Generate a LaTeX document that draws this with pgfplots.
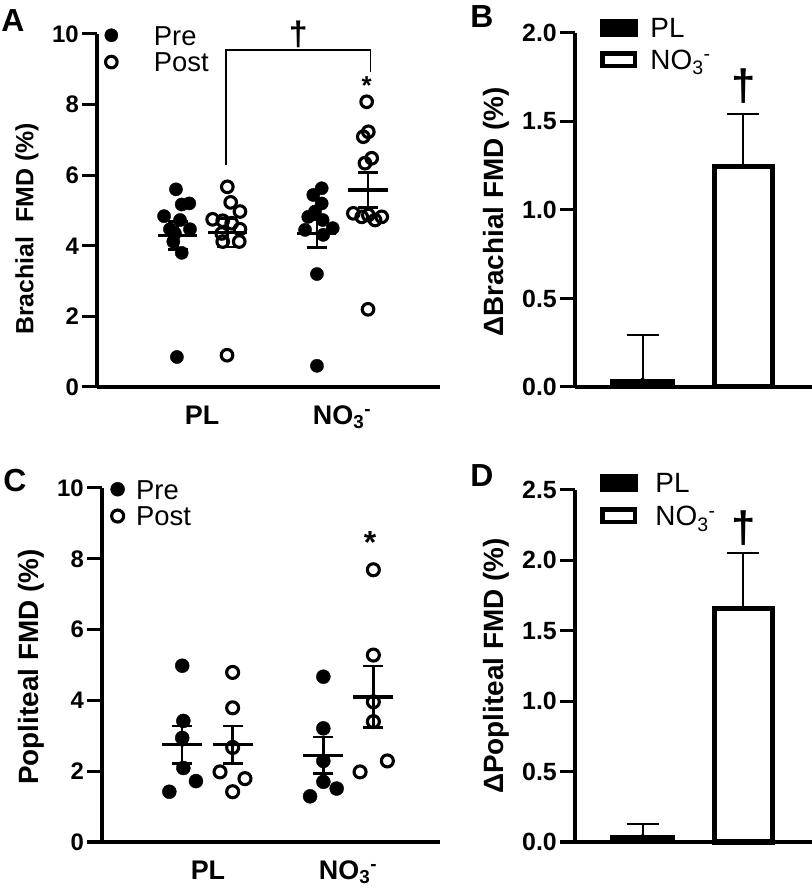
\documentclass[border=0pt]{standalone}
\usepackage{fontspec}
\setmainfont{Liberation Sans}
\usepackage{pgfplots}
\pgfplotsset{compat=1.18}
\newcommand{\fs}[1]{\fontsize{#1}{#1}\selectfont}
\pgfplotsset{
  myaxis/.style={
    scale only axis,
    axis lines=left,
    axis line style={-, line width=3.3bp},
    clip=false,
    tick align=outside,
    major tick length=15bp,
    ytick style={line width=3bp, black},
    xtick style={draw=none},
    /pgf/number format/assume math mode=true,
    yticklabel style={font=\bfseries\fs{24}, inner sep=3bp},
    xticklabel style={font=\bfseries\fs{27}},
    legend cell align=left,
  },
  pre/.style={only marks, mark=*, mark size=#1, mark options={fill=black, draw=black, line width=0.4bp}},
  post/.style={only marks, mark=o, mark size=#1, mark options={draw=black, line width=3.1bp}},
  meanline/.style={no marks, black, line width=3.3bp},
  sem/.style={black, only marks, mark=none, error bars/.cd, y dir=both, y explicit,
    error bar style={line width=2.5bp, black},
    error mark options={rotate=90, mark size=10bp, line width=2.5bp, black}},
  bsem/.style={black, only marks, mark=none, error bars/.cd, y dir=plus, y explicit,
    error bar style={line width=2bp, black},
    error mark options={rotate=90, mark size=16bp, line width=2bp, black}},
}
\begin{document}
\begin{tikzpicture}
\path[use as bounding box] (0,0) rectangle (812bp,894bp);
% ---------------- Panel A ----------------
\begin{axis}[myaxis, at={(97bp,507bp)}, anchor=south west,
  width=343bp, height=353bp,
  xmin=0.25, xmax=2.7, ymin=0, ymax=10, ytick={0,2,...,10},
  xtick={1,2}, xticklabels={PL, NO\textsubscript{3}\textsuperscript{-}},
  ylabel={Brachial\ \ FMD (\%)},
  every axis y label/.style={at={(axis description cs:-0.204,0.448)}, rotate=90, anchor=center, font=\bfseries\fs{25}},
  legend style={draw=none, fill=none, at={(0.022,1.025)}, anchor=north west, inner sep=0pt,
    font=\fs{27.5}, row sep=7bp, nodes={inner sep=0pt, text height=19.8bp, text depth=0bp},
    /tikz/every odd column/.append style={column sep=36bp}},
]
\addplot[pre=6.6bp] coordinates {
 (0.814,5.60) (0.909,5.20) (0.855,5.17) (0.729,4.84) (0.843,4.73) (0.914,4.47)
 (0.771,4.47) (0.807,4.35) (0.795,4.12) (0.855,3.80) (0.821,0.85)
 (1.855,5.63) (1.795,5.44) (1.855,5.20) (1.807,4.97) (1.759,4.82) (1.862,4.73)
 (1.934,4.50) (1.736,4.45) (1.866,4.31) (1.821,3.20) (1.821,0.60)};
\addplot[post=5.8bp] coordinates {
 (1.181,5.67) (1.205,5.23) (1.271,4.97) (1.076,4.75) (1.148,4.71) (1.212,4.64)
 (1.271,4.47) (1.141,4.35) (1.148,4.12) (1.266,4.12) (1.179,0.90)
 (2.176,8.08) (2.188,7.23) (2.152,7.09) (2.212,6.48) (2.164,6.34) (2.081,4.92)
 (2.141,4.82) (2.188,4.87) (2.236,4.73) (2.284,4.82) (2.186,2.20)};
\legend{Pre, Post}
\addplot[meanline] coordinates {(0.686,4.29) (0.964,4.29)};
\addplot[meanline] coordinates {(1.043,4.37) (1.321,4.37)};
\addplot[meanline] coordinates {(1.682,4.35) (1.960,4.35)};
\addplot[meanline] coordinates {(2.045,5.58) (2.325,5.58)};
\addplot[sem] coordinates {(0.825,4.29) +- (0,0.40) (1.182,4.37) +- (0,0.40)
  (1.821,4.35) +- (0,0.40) (2.185,5.58) +- (0,0.50)};
\addplot[black, line width=1.5bp] coordinates {(1.171,6.29) (1.171,9.55) (2.205,9.55) (2.205,8.93)};
\node[font=\bfseries\fs{34}] at (axis cs:1.688,10.0) {†};
\node[font=\bfseries\fs{26}] at (axis cs:2.176,8.55) {*};
\end{axis}
% ---------------- Panel B ----------------
\begin{axis}[myaxis, at={(575bp,507bp)}, anchor=south west,
  width=237bp, height=354bp,
  xmin=0.33, xmax=2.68, ymin=0, ymax=2, ytick={0,0.5,...,2},
  yticklabel style={font=\bfseries\fs{25}, /pgf/number format/.cd, fixed, fixed zerofill, precision=1},
  xtick=\empty,
  ylabel={ΔBrachial FMD (\%)},
  every axis y label/.style={at={(axis description cs:-0.333,0.494)}, rotate=90, anchor=center, font=\bfseries\fs{28}},
  legend style={draw=none, fill=none, at={(0.105,1.045)}, anchor=north west, inner sep=0pt,
    font=\fs{28}, row sep=12bp, nodes={inner sep=0pt, text height=20.2bp, text depth=0bp},
    /tikz/every odd column/.append style={column sep=13bp}},
]
\addlegendimage{legend image code/.code={\fill[black] (0bp,-8.5bp) rectangle (37bp,8.5bp);}}
\addlegendentry{PL}
\addlegendimage{legend image code/.code={\draw[black, line width=4.5bp] (2.25bp,-6.25bp) rectangle (34.75bp,6.25bp);}}
\addlegendentry{NO\textsubscript{3}\textsuperscript{-}}
\addplot[ybar, bar width=0.625, bar shift=0pt, fill=black, draw=black, line width=2bp] coordinates {(1,0.04)};
\addplot[ybar, bar width=0.575, bar shift=0pt, fill=white, draw=black, line width=5bp] coordinates {(2,1.245)};
\addplot[bsem] coordinates {(1,0.04) +- (0,0.254) (2,1.245) +- (0,0.30)};
\node[font=\bfseries\fs{44}] at (axis cs:2,1.70) {†};
\end{axis}
% ---------------- Panel C ----------------
\begin{axis}[myaxis, at={(102bp,52bp)}, anchor=south west,
  width=338bp, height=354bp,
  xmin=0.243, xmax=2.657, ymin=0, ymax=10, ytick={0,2,...,10},
  xtick={1,2}, xticklabels={PL, NO\textsubscript{3}\textsuperscript{-}},
  ylabel={Popliteal FMD (\%)},
  every axis y label/.style={at={(axis description cs:-0.21,0.494)}, rotate=90, anchor=center, font=\bfseries\fs{28}},
  legend style={draw=none, fill=none, at={(0.025,1.025)}, anchor=north west, inner sep=0pt,
    font=\fs{27.5}, row sep=7bp, nodes={inner sep=0pt, text height=19.8bp, text depth=0bp},
    /tikz/every odd column/.append style={column sep=11.5bp}},
]
\addplot[pre=7bp] coordinates {
 (0.816,4.98) (0.824,3.42) (0.816,2.94) (0.824,2.09) (0.914,1.72) (0.724,1.42)
 (1.824,4.67) (1.824,3.21) (1.824,2.29) (1.824,1.70) (1.919,1.51) (1.729,1.29)};
\addplot[post=6bp] coordinates {
 (1.176,4.79) (1.176,3.79) (1.176,2.67) (1.086,1.98) (1.264,1.79) (1.176,1.42)
 (2.181,7.69) (2.181,5.28) (2.181,3.96) (2.181,3.40) (2.281,2.29) (2.086,1.98)};
\legend{Pre, Post}
\addplot[meanline] coordinates {(0.673,2.75) (0.959,2.75)};
\addplot[meanline] coordinates {(1.033,2.75) (1.319,2.75)};
\addplot[meanline] coordinates {(1.681,2.45) (1.967,2.45)};
\addplot[meanline] coordinates {(2.038,4.10) (2.324,4.10)};
\addplot[sem] coordinates {(0.816,2.75) +- (0,0.53) (1.176,2.75) +- (0,0.53)
  (1.824,2.45) +- (0,0.52) (2.181,4.10) +- (0,0.87)};
\node[font=\bfseries\fs{32}] at (axis cs:2.157,8.45) {*};
\end{axis}
% ---------------- Panel D ----------------
\begin{axis}[myaxis, at={(575bp,52bp)}, anchor=south west,
  width=237bp, height=352bp,
  xmin=0.33, xmax=2.68, ymin=0, ymax=2.5, ytick={0,0.5,...,2.5},
  yticklabel style={font=\bfseries\fs{25}, /pgf/number format/.cd, fixed, fixed zerofill, precision=1},
  xtick=\empty,
  ylabel={ΔPopliteal FMD (\%)},
  every axis y label/.style={at={(axis description cs:-0.333,0.5)}, rotate=90, anchor=center, font=\bfseries\fs{28}},
  legend style={draw=none, fill=none, at={(0.105,1.05)}, anchor=north west, inner sep=0pt,
    font=\fs{28}, row sep=13bp, nodes={inner sep=0pt, text height=20.2bp, text depth=0bp},
    /tikz/every odd column/.append style={column sep=18bp}},
]
\addlegendimage{legend image code/.code={\fill[black] (0bp,-8.5bp) rectangle (37bp,8.5bp);}}
\addlegendentry{PL}
\addlegendimage{legend image code/.code={\draw[black, line width=4.5bp] (2.25bp,-6.25bp) rectangle (34.75bp,6.25bp);}}
\addlegendentry{NO\textsubscript{3}\textsuperscript{-}}
\addplot[ybar, bar width=0.625, bar shift=0pt, fill=black, draw=black, line width=2bp] coordinates {(1,0.04)};
\addplot[ybar, bar width=0.575, bar shift=0pt, fill=white, draw=black, line width=5bp] coordinates {(2,1.66)};
\addplot[bsem] coordinates {(1,0.04) +- (0,0.088) (2,1.66) +- (0,0.39)};
\node[font=\bfseries\fs{44}] at (axis cs:2,2.23) {†};
\end{axis}
\node[font=\bfseries\fs{32}] at (13bp,873bp) {A};
\node[font=\bfseries\fs{32}] at (482bp,877bp) {B};
\node[font=\bfseries\fs{32}] at (15bp,413bp) {C};
\node[font=\bfseries\fs{32}] at (482bp,418bp) {D};
\end{tikzpicture}
\end{document}
